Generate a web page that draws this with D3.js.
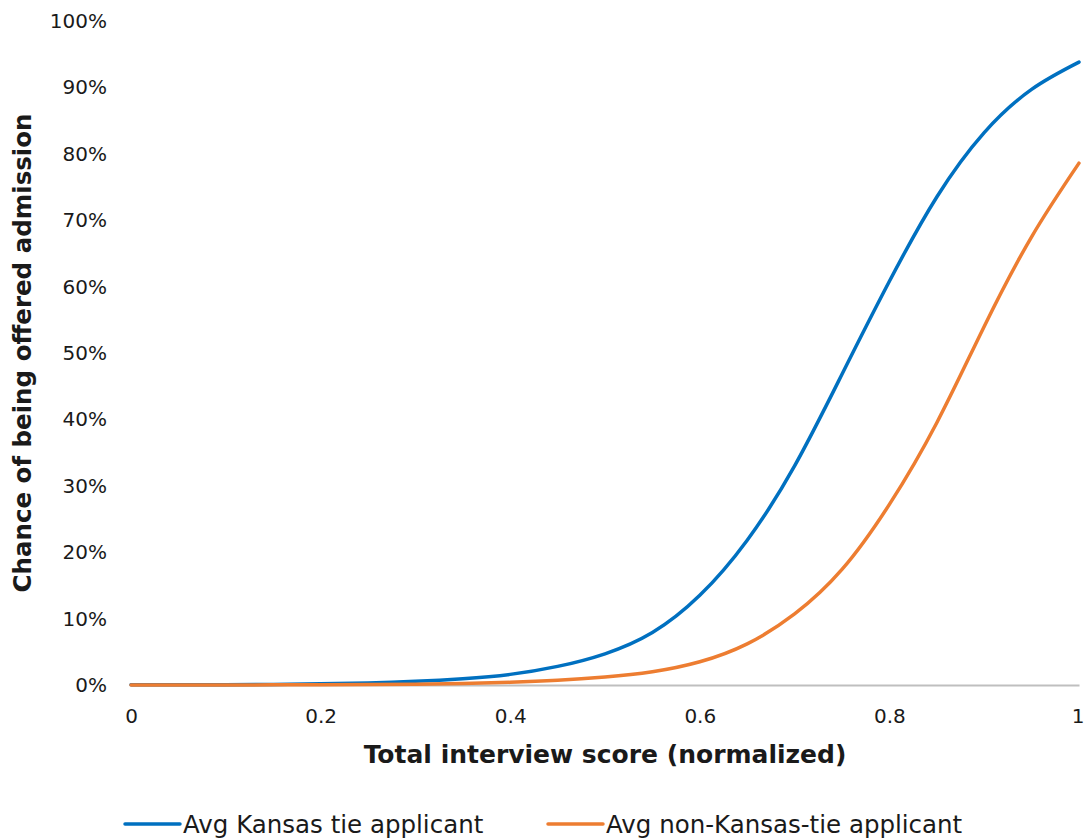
<!DOCTYPE html>
<html>
<head>
<meta charset="utf-8">
<script src="https://cdn.jsdelivr.net/npm/d3@7"></script>
<style>
  html, body { margin: 0; padding: 0; background: #fff; }
  svg { display: block; }
  text { font-family: "DejaVu Sans", "Open Sans", sans-serif; fill: #1a1a1a; }
</style>
</head>
<body>
<svg id="chart" width="1084" height="840"></svg>
<script>
// Interview score on the x axis, 0 to 1
const scores = [0, 0.05, 0.1, 0.15, 0.2, 0.25, 0.3, 0.35, 0.4, 0.45, 0.5,
                0.55, 0.6, 0.65, 0.7, 0.75, 0.8, 0.85, 0.9, 0.95, 1];

// Chance of admission (%) for each score
const kansasTie = [0.02, 0.03, 0.05, 0.09, 0.17, 0.3, 0.55, 0.95, 1.6, 2.8, 4.7,
                   7.9, 13.5, 21.8, 33.0, 46.8, 60.8, 73.5, 83.2, 89.7, 93.8];
const nonKansasTie = [0.005, 0.007, 0.01, 0.02, 0.04, 0.07, 0.12, 0.22, 0.4, 0.7, 1.2,
                      2.0, 3.5, 6.2, 10.7, 17.4, 27.2, 39.5, 54.0, 67.5, 78.6];

const seriesNames = ["Avg Kansas tie applicant", "Avg non-Kansas-tie applicant"];
const seriesColors = ["#0070c0", "#ed7d31"];

const xTicks = [0, 0.2, 0.4, 0.6, 0.8, 1];
const yTicks = [0, 10, 20, 30, 40, 50, 60, 70, 80, 90, 100];

const svg = d3.select("#chart");
const plot = { left: 131, right: 1079, top: 21, bottom: 685 };

const x = d3.scaleLinear().domain([0, 1]).range([plot.left, plot.right]);
const y = d3.scaleLinear().domain([0, 100]).range([plot.bottom, plot.top]);

// X axis: baseline and tick labels
const xAxis = svg.append("g")
  .attr("transform", `translate(0,${plot.bottom})`)
  .call(d3.axisBottom(x).tickValues(xTicks).tickSize(0).tickPadding(24)
    .tickFormat(d => d === 0 ? "0" : d === 1 ? "1" : d3.format(".1f")(d)));
xAxis.select(".domain").attr("stroke", "#bfbfbf").attr("stroke-width", 2);
xAxis.selectAll("text").attr("font-size", 20).style("font-family", "DejaVu Sans, sans-serif")
  .attr("fill", "#1a1a1a");
// keep the last label inside the frame
xAxis.selectAll(".tick").filter(d => d === 1).select("text").attr("text-anchor", "end").attr("x", 5);

// Y axis: tick labels only
const yAxis = svg.append("g")
  .attr("transform", `translate(${plot.left},0)`)
  .call(d3.axisLeft(y).tickValues(yTicks).tickSize(0).tickPadding(24)
    .tickFormat(d => d + "%"));
yAxis.select(".domain").remove();
yAxis.selectAll("text").attr("font-size", 20).style("font-family", "DejaVu Sans, sans-serif")
  .attr("fill", "#1a1a1a");

// Curves
const line = d3.line()
  .x((d, i) => x(scores[i]))
  .y(d => y(d))
  .curve(d3.curveNatural);

[kansasTie, nonKansasTie].forEach((vals, k) => {
  svg.append("path")
    .datum(vals)
    .attr("d", line)
    .attr("fill", "none")
    .attr("stroke", seriesColors[k])
    .attr("stroke-width", 3.5)
    .attr("stroke-linecap", "round");
});

// Axis titles
svg.append("text")
  .attr("x", (plot.left + plot.right) / 2)
  .attr("y", 763)
  .attr("text-anchor", "middle")
  .attr("font-size", 25)
  .attr("font-weight", "bold")
  .attr("fill", "#000")
  .text("Total interview score (normalized)");

svg.append("text")
  .attr("transform", `translate(31,${(plot.top + plot.bottom) / 2}) rotate(-90)`)
  .attr("text-anchor", "middle")
  .attr("font-size", 24.5)
  .attr("font-weight", "bold")
  .attr("fill", "#000")
  .text("Chance of being offered admission");

// Legend
const legendX = [125, 548];
seriesNames.forEach((name, k) => {
  const g = svg.append("g").attr("transform", `translate(${legendX[k]},824)`);
  g.append("line")
    .attr("x1", 0).attr("x2", 55).attr("y1", 0).attr("y2", 0)
    .attr("stroke", seriesColors[k]).attr("stroke-width", 3.5)
    .attr("stroke-linecap", "round");
  g.append("text")
    .attr("x", 58).attr("y", 0).attr("dy", "0.35em")
    .attr("font-size", 24.5)
    .text(name);
});
</script>
</body>
</html>
